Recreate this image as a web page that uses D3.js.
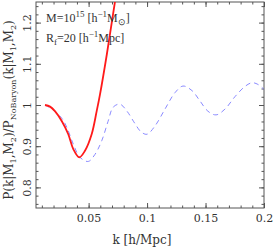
<!DOCTYPE html>
<html><head><meta charset="utf-8">
<script src="https://cdn.jsdelivr.net/npm/d3@7/dist/d3.min.js"></script>
<style>body{margin:0;background:#fff}svg{display:block}text{font-family:"DejaVu Serif",serif;fill:#333}</style>
</head><body><svg id="c" width="273" height="248"></svg>
<script>
const redK = [0.0127,0.017,0.0212,0.027,0.0326,0.0369,0.042,0.0469,0.0526,0.0569,0.0597,0.0657,0.0725,0.078];
const redV = [1.0,0.996,0.985,0.961,0.929,0.893,0.873,0.889,0.929,0.985,1.025,1.125,1.25,1.34];
const blueK = [0.0127,0.0187,0.027,0.0315,0.0369,0.0426,0.0497,0.0554,0.0612,0.0666,0.0711,0.0768,0.0828,0.0896,0.0948,0.0999,0.107,0.1153,0.1239,0.1307,0.1384,0.1452,0.152,0.159,0.1666,0.1751,0.1837,0.1897,0.1948,0.2];
const blueV = [1.0,0.99,0.968,0.945,0.905,0.873,0.863,0.88,0.913,0.96,0.995,1.002,0.985,0.955,0.935,0.929,0.95,0.99,1.03,1.046,1.035,1.01,0.985,0.976,0.99,1.02,1.045,1.054,1.05,1.038];
const xTicks = [0.05,0.1,0.15,0.2];
const yTicks = [0.8,0.9,1,1.1,1.2];

const svg = d3.select("#c");
const L=36,R=264,T=2,B=208;
const x = d3.scaleLinear().domain([0.005,0.2]).range([L,R]);
const y = d3.scaleLinear().domain([0.75,1.25]).range([B,T]);
const col="#555";
svg.append("defs").append("clipPath").attr("id","cp").append("rect").attr("x",L).attr("y",T).attr("width",R-L).attr("height",B-T);

const xMinor = d3.range(0.01,0.2001,0.01);
const yMinor = d3.range(0.76,1.2501,0.02);
const g = svg.append("g");
g.append("g").attr("transform",`translate(0,${B})`).call(d3.axisBottom(x).tickValues(xMinor).tickSize(-2.5).tickFormat(""));
g.append("g").attr("transform",`translate(0,${B})`).call(d3.axisBottom(x).tickValues(xTicks).tickSize(-5).tickPadding(6).tickFormat(d=>d3.format("")(d)));
g.append("g").attr("transform",`translate(0,${T})`).call(d3.axisTop(x).tickValues(xMinor).tickSize(-2.5).tickFormat(""));
g.append("g").attr("transform",`translate(0,${T})`).call(d3.axisTop(x).tickValues(xTicks).tickSize(-5).tickFormat(""));
g.append("g").attr("transform",`translate(${L},0)`).call(d3.axisLeft(y).tickValues(yMinor).tickSize(-2.5).tickFormat(""));
const yl = g.append("g").attr("transform",`translate(${L},0)`).call(d3.axisLeft(y).tickValues(yTicks).tickSize(-5).tickPadding(0).tickFormat(d=>d3.format("")(d)));
g.append("g").attr("transform",`translate(${R},0)`).call(d3.axisRight(y).tickValues(yMinor).tickSize(-2.5).tickFormat(""));
g.append("g").attr("transform",`translate(${R},0)`).call(d3.axisRight(y).tickValues(yTicks).tickSize(-5).tickFormat(""));
yl.selectAll("text").attr("transform","rotate(-90)").attr("x",0).attr("y",-5).attr("dy",0).attr("text-anchor","middle");
g.selectAll(".domain").remove();
g.selectAll("line").attr("stroke",col);
g.selectAll("text").style("font-size","11px").style("font-family","DejaVu Serif").attr("fill","#333");
svg.append("rect").attr("x",L).attr("y",T).attr("width",R-L).attr("height",B-T).attr("fill","none").attr("stroke",col).attr("stroke-width",1);

const line = d3.line().x(d=>x(d[0])).y(d=>y(d[1])).curve(d3.curveCatmullRom);
const pl = svg.append("g").attr("clip-path","url(#cp)");
pl.append("path").attr("d",line(blueK.map((k,i)=>[k,blueV[i]]))).attr("fill","none").attr("stroke","#8a8aff").attr("stroke-width",1).attr("stroke-dasharray","5,4");
pl.append("path").attr("d",line(redK.map((k,i)=>[k,redV[i]]))).attr("fill","none").attr("stroke","#ff1a1a").attr("stroke-width",1.8);

const t1 = svg.append("text").attr("x",46).attr("y",22).style("font-family","Liberation Serif").style("font-size","12px");
t1.append("tspan").text("M=10");
t1.append("tspan").attr("dy",-5).style("font-size","9px").text("15");
t1.append("tspan").attr("dy",5).text(" [h");
t1.append("tspan").attr("dy",-5).style("font-size","9px").text("−1");
t1.append("tspan").attr("dy",5).text("M");
t1.append("tspan").attr("dy",3).style("font-size","9px").text("⊙");
t1.append("tspan").attr("dy",-3).text("]");
const t2 = svg.append("text").attr("x",46).attr("y",42).style("font-family","Liberation Serif").style("font-size","12px");
t2.append("tspan").text("R");
t2.append("tspan").attr("dy",3).style("font-size","9px").text("f");
t2.append("tspan").attr("dy",-3).text("=20 [h");
t2.append("tspan").attr("dy",-5).style("font-size","9px").text("−1");
t2.append("tspan").attr("dy",5).text("Mpc]");

svg.append("text").attr("x",142).attr("y",244).attr("text-anchor","middle").style("font-size","12px").text("k [h/Mpc]");
const yt = svg.append("text").attr("transform","translate(13,110) rotate(-90)").attr("text-anchor","middle").style("font-size","12px");
yt.append("tspan").text("P(k|M");
yt.append("tspan").attr("dy",3).style("font-size","8px").text("1");
yt.append("tspan").attr("dy",-3).text(",M");
yt.append("tspan").attr("dy",3).style("font-size","8px").text("2");
yt.append("tspan").attr("dy",-3).text(")/P");
yt.append("tspan").attr("dy",3).style("font-size","8px").text("NoBaryon");
yt.append("tspan").attr("dy",-3).text("(k|M");
yt.append("tspan").attr("dy",3).style("font-size","8px").text("1");
yt.append("tspan").attr("dy",-3).text(",M");
yt.append("tspan").attr("dy",3).style("font-size","8px").text("2");
yt.append("tspan").attr("dy",-3).text(")");
</script></body></html>
